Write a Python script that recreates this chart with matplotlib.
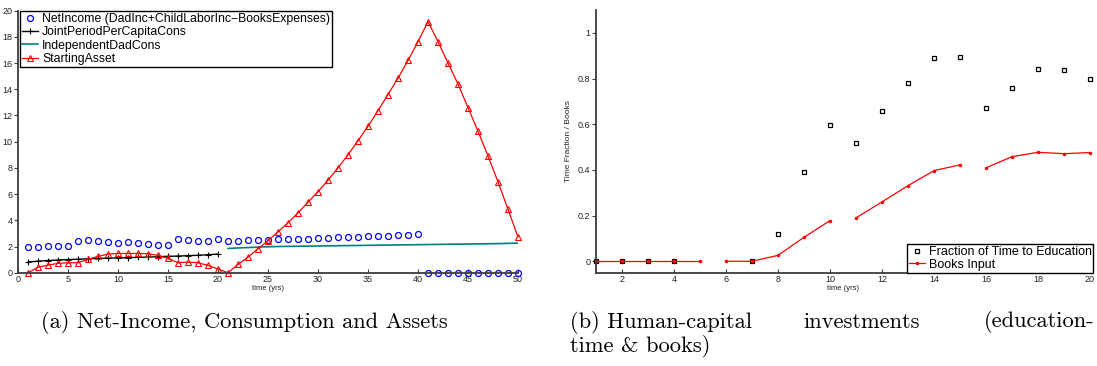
import matplotlib
matplotlib.use("Agg")
import matplotlib.pyplot as plt
import numpy as np

plt.rcParams['font.family'] = ['Liberation Sans', 'DejaVu Sans']

# --- panel (a) data ---
years_a = np.arange(1, 51)
net_income = [1.98, 2.00, 2.03, 2.03, 2.05, 2.41, 2.46, 2.41, 2.31, 2.23,
              2.36, 2.28, 2.18, 2.10, 2.13, 2.56, 2.51, 2.41, 2.41, 2.54,
              2.41, 2.41, 2.46, 2.49, 2.51, 2.56, 2.57, 2.59, 2.61, 2.64,
              2.66, 2.69, 2.72, 2.74, 2.77, 2.80, 2.82, 2.85, 2.87, 2.92,
              0, 0, 0, 0, 0, 0, 0, 0, 0, 0]
years_joint = np.arange(1, 21)
joint_cons = [0.81, 0.88, 0.93, 0.97, 1.00, 1.03, 1.06, 1.09, 1.11, 1.13,
              1.15, 1.17, 1.19, 1.22, 1.25, 1.27, 1.30, 1.33, 1.37, 1.42]
years_dad = np.arange(21, 51)
dad_cons = [1.85, 1.89, 1.92, 1.95, 1.98, 2.00, 2.01, 2.02, 2.03, 2.04,
            2.05, 2.06, 2.07, 2.08, 2.09, 2.10, 2.11, 2.12, 2.13, 2.14,
            2.15, 2.16, 2.17, 2.18, 2.19, 2.20, 2.21, 2.22, 2.24, 2.26]
start_asset = [0.00, 0.41, 0.58, 0.71, 0.76, 0.76, 1.02, 1.24, 1.42, 1.47,
               1.47, 1.47, 1.45, 1.32, 1.09, 0.76, 0.81, 0.76, 0.56, 0.28,
               0.00, 0.63, 1.19, 1.83, 2.44, 3.12, 3.81, 4.57, 5.38, 6.19,
               7.06, 8.00, 9.00, 10.08, 11.17, 12.37, 13.60, 14.85, 16.20, 17.64,
               19.17, 17.64, 16.00, 14.40, 12.60, 10.80, 8.91, 6.93, 4.85, 2.72]

# --- panel (b) data ---
years_b = np.arange(1, 21)
edu_fraction = [0, 0, 0, 0, np.nan, np.nan, 0, 0.121, 0.391, 0.596,
                0.518, 0.659, 0.782, 0.891, 0.894, 0.671, 0.760, 0.843, 0.838, 0.800]
books_input = [0, 0, 0, 0, 0, 0, 0, 0.026, 0.105, 0.178,
               0.190, 0.260, 0.331, 0.397, 0.422, 0.409, 0.458, 0.477, 0.471, 0.476]
book_segments = [(0, 5), (5, 10), (10, 15), (15, 20)]

fig = plt.figure(figsize=(10.97, 3.66), dpi=100)
W, H = 1097, 366


def style_axes(ax):
    for s in ['top', 'right']:
        ax.spines[s].set_visible(False)
    for s in ['left', 'bottom']:
        ax.spines[s].set_color('#3c3c3c')
        ax.spines[s].set_linewidth(1.3)
    ax.tick_params(axis='x', direction='in', length=3, width=0.8, labelsize=6.5,
                   pad=2, colors='#3c3c3c', labelcolor='#222222')
    ax.tick_params(axis='y', direction='out', length=3, width=0.8, labelsize=6.5,
                   pad=1, colors='#3c3c3c', labelcolor='#222222')


# ---------- (a) ----------
ax1 = fig.add_axes([18 / W, (H - 272.7) / H, 500 / W, 262 / H])
style_axes(ax1)
ax1.plot(years_a, net_income, 'o', ls='none', mfc='none', mec='#0000ff',
         ms=4.3, mew=0.9, clip_on=False,
         label='NetIncome (DadInc+ChildLaborInc\u2212BooksExpenses)')
ax1.plot(years_joint, joint_cons, '-+', color='black', lw=1.0, ms=5, mew=0.8,
         label='JointPeriodPerCapitaCons')
ax1.plot(years_dad, dad_cons, '-', color='#008080', lw=1.2, label='IndependentDadCons')
ax1.plot(years_a, start_asset, '-^', color='#ff0000', lw=0.9, ms=4.5, mfc='none',
         mew=0.8, clip_on=False, label='StartingAsset')
ax1.set_xlim(0, 50)
ax1.set_ylim(0, 20)
ax1.set_xticks(np.arange(0, 51, 5))
ax1.set_yticks(np.arange(0, 21, 2))
ax1.set_xlabel('time (yrs)', fontsize=5.5, labelpad=0.5, color='#222222')
leg1 = ax1.legend(loc='upper left', bbox_to_anchor=(0.004, 1.0), fontsize=8.8,
                  frameon=True, fancybox=False, edgecolor='black', framealpha=1,
                  handlelength=1.3, handletextpad=0.3, borderpad=0.2,
                  labelspacing=0.1, borderaxespad=0)
leg1.get_frame().set_linewidth(1.0)

# ---------- (b) ----------
ax2 = fig.add_axes([596 / W, (H - 272.7) / H, 494 / W, 262.7 / H])
style_axes(ax2)
ax2.plot(years_b, edu_fraction, 's', ls='none', mfc='white', mec='black',
         ms=2.3, mew=0.9, clip_on=False, label='Fraction of Time to Education')
for k, (i0, i1) in enumerate(book_segments):
    ax2.plot(years_b[i0:i1], books_input[i0:i1], '.-', color='#ff0000', lw=0.9,
             ms=3, clip_on=False, label='Books Input' if k == 0 else None)
ax2.set_xlim(1, 20)
ax2.set_ylim(-0.05, 1.1)
ax2.set_xticks(np.arange(2, 21, 2))
ax2.set_yticks([0, 0.2, 0.4, 0.6, 0.8, 1])
ax2.set_yticklabels(['0', '0.2', '0.4', '0.6', '0.8', '1'])
ax2.set_xlabel('time (yrs)', fontsize=5.5, labelpad=0.5, color='#222222')
ax2.set_ylabel('Time Fraction / Books', fontsize=6, labelpad=4, color='#222222')
leg2 = ax2.legend(loc='lower right', bbox_to_anchor=(1.007, 0.0), fontsize=9,
                  frameon=True, fancybox=False, edgecolor='black', framealpha=1,
                  handlelength=1.3, handletextpad=0.3, borderpad=0.15,
                  labelspacing=0.05, borderaxespad=0)
leg2.get_frame().set_linewidth(1.0)

# ---------- captions (justified first line of (b)) ----------
cap = dict(family='cmr10', fontsize=16.2, va='center')
fig.text(244 / W, 1 - 322 / H, '(a) Net-Income, Consumption and Assets', ha='center', **cap)
fig.text(570 / W, 1 - 322 / H, '(b) Human-capital', ha='left', **cap)
fig.text(862 / W, 1 - 322 / H, 'investments', ha='center', **cap)
fig.text(1094 / W, 1 - 322 / H, '(education-', ha='right', **cap)
fig.text(570 / W, 1 - 346 / H, 'time & books)', ha='left', **cap)

fig.savefig('out.png', dpi=100)
